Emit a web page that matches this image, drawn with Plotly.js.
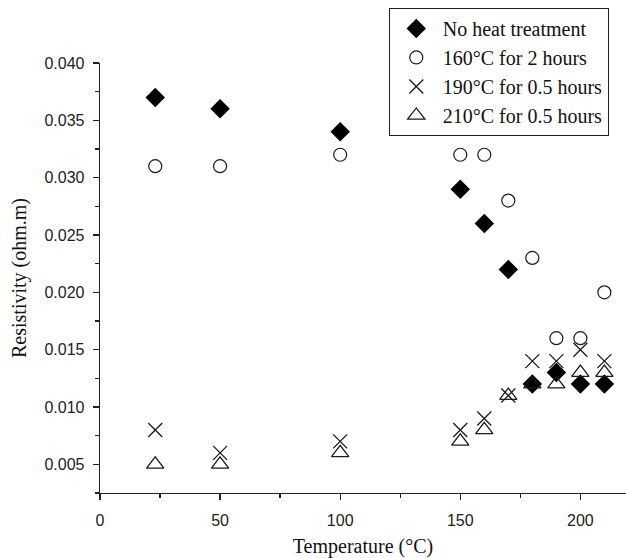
<!DOCTYPE html>
<html>
<head>
<meta charset="utf-8">
<script src="https://cdn.plot.ly/plotly-3.0.1.min.js"></script>
<style>html,body{margin:0;padding:0;background:#fff;}#chart{width:626px;height:558px;}</style>
</head>
<body>
<div id="chart"></div>
<script>
const temperature = [23, 50, 100, 150, 160, 170, 180, 190, 200, 210];
const noHeat = [0.037, 0.036, 0.034, 0.029, 0.026, 0.022, 0.012, 0.013, 0.012, 0.012];
const t160_2h = [0.031, 0.031, 0.032, 0.032, 0.032, 0.028, 0.023, 0.016, 0.016, 0.020];
const t190_05h = [0.008, 0.006, 0.007, 0.008, 0.009, 0.011, 0.014, 0.014, 0.015, 0.014];
const t210_05h = [0.005, 0.005, 0.006, 0.007, 0.008, 0.011, 0.012, 0.012, 0.013, 0.013];
const seriesNames = ['No heat treatment', '160°C for 2 hours', '190°C for 0.5 hours', '210°C for 0.5 hours'];

const ink = '#1a1a1a';
const serif = 'Liberation Serif, Times New Roman, serif';
const sans = 'Liberation Sans, Arial, sans-serif';
const traces = [
  {x: temperature, y: noHeat, name: seriesNames[0], mode: 'markers', type: 'scatter',
   marker: {symbol: 'diamond', size: 15, color: '#000', line: {width: 0}}},
  {x: temperature, y: t160_2h, name: seriesNames[1], mode: 'markers', type: 'scatter',
   marker: {symbol: 'circle-open', size: 13, color: ink, line: {width: 1.2, color: ink}}},
  {x: temperature, y: t190_05h, name: seriesNames[2], mode: 'markers', type: 'scatter',
   marker: {symbol: 'x-thin-open', size: 14, color: ink, line: {width: 1.3, color: ink}}},
  {x: temperature, y: t210_05h, name: seriesNames[3], mode: 'markers', type: 'scatter',
   marker: {symbol: 'triangle-up-open', size: 15, color: ink, line: {width: 1.3, color: ink}}}
];

const layout = {
  width: 626, height: 558,
  margin: {l: 100, r: 0, t: 63, b: 65},
  paper_bgcolor: '#fff', plot_bgcolor: '#fff',
  showlegend: true,
  legend: {x: 0.549, y: 1.128, xanchor: 'left', yanchor: 'top',
    bordercolor: '#222', borderwidth: 1, bgcolor: '#fff', itemwidth: 43,
    font: {family: serif, size: 20, color: '#111'},
    tracegroupgap: 0},
  xaxis: {
    range: [0, 219], showgrid: false, zeroline: false,
    showline: true, linecolor: '#222', linewidth: 1.3,
    ticks: 'outside', ticklen: 6, tickwidth: 1.3, tickcolor: '#222',
    tick0: 0, dtick: 50, ticklabelstandoff: 6,
    minor: {ticks: 'outside', ticklen: 4, dtick: 25, tickcolor: '#222', tickwidth: 1.3},
    tickfont: {family: sans, size: 16, color: '#222'},
    title: {text: 'Temperature (°C)', standoff: 11,
      font: {family: serif, size: 20, color: '#111'}}
  },
  yaxis: {
    range: [0.0025, 0.040], showgrid: false, zeroline: false,
    showline: true, linecolor: '#222', linewidth: 1.3,
    ticks: 'outside', ticklen: 6, tickwidth: 1.3, tickcolor: '#222',
    tick0: 0, dtick: 0.005, tickformat: '.3f', ticklabelstandoff: 5,
    minor: {ticks: 'outside', ticklen: 4, dtick: 0.0025, tickcolor: '#222', tickwidth: 1.3},
    tickfont: {family: sans, size: 16, color: '#222'},
    title: {text: 'Resistivity (ohm.m)', standoff: 12,
      font: {family: serif, size: 20, color: '#111'}}
  }
};

Plotly.newPlot('chart', traces, layout, {displayModeBar: false, staticPlot: true});
</script>
</body>
</html>
